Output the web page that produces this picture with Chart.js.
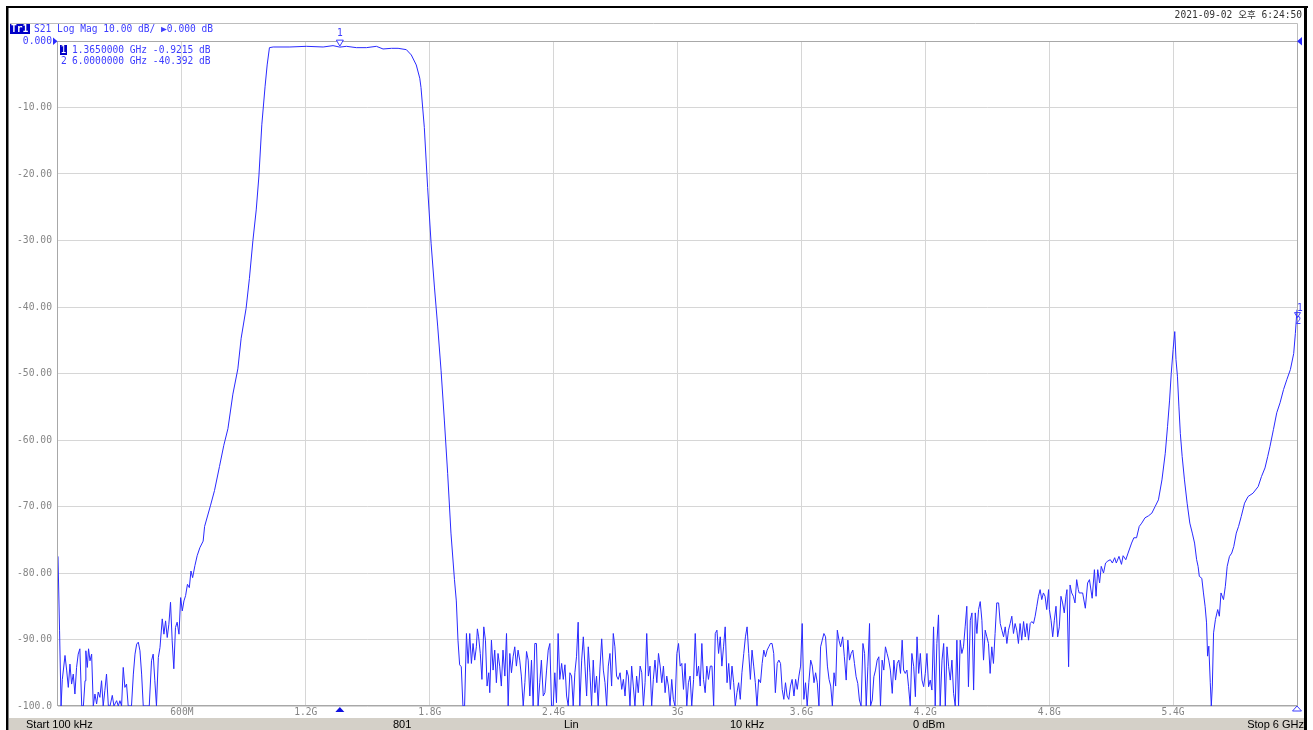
<!DOCTYPE html>
<html><head><meta charset="utf-8">
<script src="https://cdn.jsdelivr.net/npm/chart.js@4.4.1/dist/chart.umd.min.js"></script>
<style>html,body{margin:0;padding:0;background:#fff;overflow:hidden}canvas{display:block}</style>
</head><body>
<canvas id="c" width="1313" height="730"></canvas>
<script>
// ---- data (MHz, dB) ----
const lowFreqMHz = [0.1,7.6,15,21,34,42,50,58,66,74,82,90,98,
 106,115,123,131,135,142,148,155,163,171,
 179,187,195,203,211,219,227,235,244,252,
 263,271,284,292,300,308,316,324,332,340,
 356,365,373,381,389,397,405,413,429,442,
 453,461,469,477,486,494,505,513,521,529,
 537,545,553,561,569,577,586,594,602,610,
 618,627,636,644,652,663,674,687,703,710,
 739,758,782,803,823,847,871,887,911,927,
 944,960,973,987,1003,1013,1024];
const lowDb = [-77.5,-88.6,-100,-96,-92.4,-94.6,-97.2,-93.7,-96.7,-95.2,-98.2,-94.2,-92.2,
 -91.4,-100,-100,-96.2,-91.7,-94.2,-91.4,-93.2,-92.2,-100,
 -98.2,-99.7,-97.9,-98.7,-96.2,-100,-97.7,-95.2,-100,-100,
 -98.4,-100,-99.2,-100,-99.2,-100,-94.2,-97.2,-96.7,-100,
 -100,-95.2,-92.2,-90.7,-90.4,-91.7,-95.2,-100,-100,-100,
 -93.2,-92.2,-96.2,-100,-92.7,-91.2,-86.9,-89.2,-87.2,-89.7,
 -87.7,-84.4,-90.2,-94.4,-88.2,-87.4,-89.2,-83.7,-85.7,-84.2,
 -83.4,-81.7,-82.2,-79.7,-80.7,-78.9,-77.4,-76.2,-75.2,-73,
 -69.8,-67.6,-64,-60.8,-58.3,-53.1,-49.3,-44.7,-40.2,-35.7,
 -30,-25.4,-20.3,-12.6,-6.8,-3.6,-1.0];

const passFreqMHz = [1042,1123,1203,1284,1332,1365,1397,1445,1494,1542,
 1574,1615,1647,1687,1711,1735,1752,1758,1774,1790,
 1807,1823,1839,1855,1871,1887,1903,1920];
const passDb = [-0.9,-0.9,-0.8,-0.9,-0.7,-0.92,-0.8,-1.0,-1.0,-0.8,
 -1.2,-1.1,-1.1,-1.3,-2.1,-3.6,-5.6,-7,-13,-22,
 -30.5,-37,-43,-49.5,-57,-65,-74,-81];

const stopFreqMHz = [
 1929,1937,1945,1953,1961,1969,1978,1986,1994,2002,
 2010,2018,2026,2031,2037,2045,2053,2062,2070,2078,
 2086,2091,2099,2107,2115,2123,2131,2139,2147,2155,
 2164,2172,2180,2188,2196,2204,2212,2220,2228,2236,
 2244,2253,2261,2269,2277,2285,2293,2301,2309,2317,
 2325,2333,2341,2350,2358,2366,2374,2382,2390,2398,
 2406,2414,2422,2430,2439,2447,2455,2463,2471,2479,
 2487,2495,2503,2511,2519,2527,2536,2544,2552,2560,
 2568,2576,2584,2592,2600,2608,2616,2625,2633,2641,
 2649,2657,2665,2673,2681,2689,2697,2705,2713,2722,
 2730,2738,2746,2754,2762,2770,2778,2786,2794,2802,
 2810,2819,2827,2835,2843,2851,2859,2867,2875,2883,
 2891,2900,2908,2916,2924,2932,2940,2948,2956,2964,
 2972,2980,2988,2997,3005,3013,3021,3029,3037,3045,
 3053,3061,3069,3078,3086,3094,3102,3110,3118,3126,
 3134,3142,3150,3159,3167,3175,3183,3191,3199,3207,
 3215,3223,3231,3240,3248,3256,3264,3272,3280,3288,
 3296,3304,3312,3321,3329,3337,3345,3353,3361,3369,
 3377,3385,3393,3402,3410,3418,3426,3434,3442,3450,
 3458,3466,3474,3483,3491,3499,3507,3515,3523,3531,
 3539,3547,3555,3564,3572,3580,3588,3596,3604,3612,
 3620,3628,3636,3645,3653,3661,3669,3677,3685,3693,
 3701,3709,3717,3726,3734,3742,3750,3758,3766,3774,
 3782,3790];
const stopDb = [
 -84.2,-90.1,-93.8,-94.1,-100,-100,-89.1,-93.6,-89.1,-93.6,
 -90.6,-93.1,-91.1,-88.4,-89.6,-92.1,-96,-88.1,-90.1,-97,
 -95,-98,-90.1,-94.6,-91.6,-96.5,-92.1,-94,-97,-91.6,
 -95.5,-89.1,-100,-92.1,-95,-92.6,-91.1,-94,-91.6,-93.1,
 -95.5,-100,-96.5,-91.8,-93.1,-98.5,-93.1,-100,-90.6,-90.6,
 -100,-96.5,-93.1,-98.5,-98,-94.6,-91.6,-90.6,-100,-100,
 -95,-99.5,-89.1,-96,-93.6,-96,-93.8,-98.5,-100,-95,
 -95.5,-100,-95,-92.6,-87.4,-100,-93.1,-89.6,-94,-98.5,
 -91.1,-95,-100,-93.1,-98,-95.5,-100,-94,-89.9,-94.6,
 -96.5,-100,-94,-92.1,-97,-89.1,-91.1,-95.5,-96,-95,
 -97.5,-96,-98.5,-94.6,-95.5,-100,-94,-97,-100,-95.5,
 -98,-94,-95,-100,-96.5,-89.1,-95.5,-94,-100,-96,
 -93.1,-96.5,-92.1,-94,-96.5,-94,-98,-95.5,-97,-100,
 -96,-99,-100,-92.1,-90.6,-94,-93.6,-97.5,-93.6,-100,
 -96.5,-95.5,-100,-96,-89.1,-95.5,-94,-97,-90.6,-96,
 -98,-94,-96,-94,-94,-100,-89.1,-88.6,-92.1,-89.6,
 -94,-91.1,-88.1,-96.5,-93.6,-97.5,-94,-96.5,-100,-98,
 -96.5,-99,-95,-92.1,-89.6,-88.1,-92.1,-96,-91.6,-94,
 -96.5,-100,-96,-96.5,-93.6,-91.6,-92.6,-91.6,-91.1,-90.6,
 -90.6,-92.1,-98,-93.6,-93.1,-93.6,-97.5,-99,-96.5,-98.5,
 -99,-97,-96,-98.5,-96,-97.5,-95.5,-94,-87.6,-99,
 -96.5,-100,-96.5,-93.1,-94,-96.5,-95,-96.5,-100,-91.1,
 -90.1,-89.1,-89.6,-94,-96,-97,-100,-95,-97,-88.6,
 -90.1,-91.1];

const upperFreqMHz = [
 3800,3808,3817,3825,3833,3841,3849,3857,3865,3873,
 3881,3889,3898,3906,3914,3922,3930,3935,3943,3951,
 3959,3967,3975,3983,3991,3999,4007,4015,4023,4031,
 4040,4048,4056,4064,4072,4080,4088,4095,4103,4111,
 4119,4127,4135,4144,4152,4160,4168,4176,4184,4192,
 4200,4208,4216,4224,4232,4240,4248,4256,4264,4272,
 4281,4289,4297,4305,4313,4321,4329,4337,4345,4353,
 4361,4369,4377,4385,4393,4401,4409,4418,4426,4434,
 4442,4450,4458,4466,4474,4482,4490,4498,4506,4514,
 4522,4530,4538,4546,4555,4563,4571,4579,4587,4595,
 4603,4611,4619,4627,4635,4643,4651,4659,4667,4676,
 4684,4692,4700,4708,4716,4724,4732,4740,4748,4756,
 4764,4772,4780,4788,4797,4801,4809,4817,4825,4833,
 4841,4849,4857,4865,4873,4881,4886,4894,4901,4909,
 4917,4925,4933,4941];
const upperDb = [
 -89.6,-92.6,-96.1,-90.1,-93.1,-92.1,-91.6,-93.6,-95.6,-96.6,
 -99.1,-100,-90.6,-92.1,-100,-94.1,-87.6,-100,-99.1,-95.6,
 -94.6,-93.1,-92.6,-100,-93.1,-94.6,-91.1,-92.1,-93.1,-94.6,
 -98.1,-93.1,-96.1,-93.6,-93.1,-95.1,-90.1,-94.6,-95.1,-94.6,
 -97.1,-100,-92.1,-94.1,-98.6,-89.6,-95.1,-92.1,-96.1,-97.1,
 -95.1,-92.1,-97.1,-96.1,-97.6,-88.1,-100,-90.6,-86.3,-100,
 -93.1,-90.6,-100,-91.1,-94.1,-96.1,-93.1,-98.1,-100,-90.1,
 -100,-90.1,-92.1,-91.1,-88.1,-85,-97.1,-87.1,-86,-97.6,
 -86,-89.1,-85.5,-84.3,-87.1,-93.1,-88.6,-89.6,-90.6,-95.1,
 -91.1,-93.6,-89.1,-84.5,-84.5,-87.6,-88.6,-89.6,-88.1,-90.6,
 -88.6,-87.6,-86.5,-89.1,-87.6,-88.6,-90.6,-87.6,-90.1,-87.3,
 -89.6,-87.6,-90.1,-87.6,-87.3,-87.6,-86.5,-85,-83.5,-82.5,
 -84,-83,-83.5,-85.5,-82.5,-85.5,-87.1,-89.6,-87.1,-85,
 -89.6,-88.1,-83.5,-84.5,-86,-83.5,-82.5,-94.1,-81.8,-83,
 -83.5,-84.5,-81,-82.5];

const spurFreqMHz = [
 4945,4962,4975,4986,4995,5008,5019,5027,5035,5044,
 5052,5063,5073,5084,5096,5106,5117,5125,5138,5150,
 5158,5171,5182,5199,5210,5223,5236,5248,5264,5281,
 5297,5313,5329,5346,5362,5373,5383,5391,5400,5408,
 5414,5421,5428,5435,5444,5455,5468,5481,5493,5504,
 5514,5521,5527,5539,5547,5555,5562,5567,5573,5580,
 5585,5590,5596,5605,5616,5624,5632,5644,5653,5662,
 5673,5684,5694,5706,5717,5730,5746,5763,5787,5812,
 5828,5845,5858,5869,5886,5902,5918,5935,5951,5968,
 5984,5992,6000];
const spurDb = [
 -83,-83,-85.3,-81.5,-81,-83.8,-79.5,-83.5,-79.5,-81.5,
 -79,-80,-78.5,-78.2,-78,-78.5,-77.7,-78.5,-77.5,-78.7,
 -77.4,-78,-77,-75.5,-74.7,-74.7,-73,-72.5,-71.7,-71.4,
 -71,-70,-69,-66,-62,-58,-54,-50,-46.4,-43.7,
 -47.9,-50.4,-54.9,-59,-62.5,-66,-69.5,-72.5,-74,-75.5,
 -78,-79,-80.5,-80.8,-83,-85,-87.5,-92.5,-91,-96.5,
 -100,-97,-89,-87,-85.5,-86.5,-83,-84,-82,-79,
 -77.5,-77,-76,-74,-73,-71.5,-69.5,-68.5,-68,-67,
 -65.5,-64.2,-62.5,-61,-58.4,-55.9,-54.4,-52.4,-50.9,-49.4,
 -47,-44,-40.392];

const markerFreqMHz = [1365, 6000];
const markerDb = [-0.9215, -40.392];
const markerReadout = ['1.3650000 GHz -0.9215 dB', '6.0000000 GHz -40.392 dB'];

const xTickValues = [600,1200,1800,2400,3000,3600,4200,4800,5400];
const xTickLabels = ['600M','1.2G','1.8G','2.4G','3G','3.6G','4.2G','4.8G','5.4G'];
const yTickValues = [0,-10,-20,-30,-40,-50,-60,-70,-80,-90,-100];
const yTickLabels = ['0.000','-10.00','-20.00','-30.00','-40.00','-50.00','-60.00','-70.00','-80.00','-90.00','-100.0'];

const statusItems = ['Start 100 kHz','801','Lin','10 kHz','0 dBm','Stop 6 GHz'];

// ---- build ----
const allFreq = [].concat(lowFreqMHz, passFreqMHz, stopFreqMHz, upperFreqMHz, spurFreqMHz);
const allDb = [].concat(lowDb, passDb, stopDb, upperDb, spurDb);
const points = allFreq.map((f, i) => ({x: f, y: allDb[i]}));

const MONO = '"DejaVu Sans Mono", "Noto Sans CJK KR", monospace';
const BLUE_TXT = '#3c3cff';

function tri(ctx, pts, fill, stroke) {
  ctx.beginPath();
  ctx.moveTo(pts[0][0], pts[0][1]);
  ctx.lineTo(pts[1][0], pts[1][1]);
  ctx.lineTo(pts[2][0], pts[2][1]);
  ctx.closePath();
  if (fill) { ctx.fillStyle = fill; ctx.fill(); }
  if (stroke) { ctx.strokeStyle = stroke; ctx.lineWidth = 1; ctx.stroke(); }
}

const chrome = {
  id: 'chrome',
  beforeDraw(chart) {
    const c = chart.ctx;
    c.save();
    c.fillStyle = '#fff';
    c.fillRect(0, 0, chart.width, chart.height);
    c.restore();
  },
  beforeDatasetsDraw(chart) {
    const c = chart.ctx, a = chart.chartArea;
    c.save();
    c.strokeStyle = '#a8a8a8';
    c.lineWidth = 1;
    c.strokeRect(Math.round(a.left) - 0.5, Math.round(a.top) + 0.5, Math.round(a.right - a.left) + 1, Math.round(a.bottom - a.top) - 1);
    // panel header frame
    c.strokeStyle = '#bdbdbd';
    c.beginPath();
    c.moveTo(10, 23.5); c.lineTo(a.right + 0.5, 23.5);
    c.moveTo(a.right + 0.5, 23.5); c.lineTo(a.right + 0.5, a.top);
    c.stroke();
    c.restore();
  },
  afterDraw(chart) {
    const c = chart.ctx, a = chart.chartArea;
    const xs = chart.scales.x, ys = chart.scales.y;
    c.save();
    // outer black frame
    c.fillStyle = '#000';
    c.fillRect(6, 6, 1302, 2);
    c.fillRect(6, 6, 2.5, 724);
    c.fillRect(1304, 6, 3, 724);
    // date
    c.font = '9.6px ' + MONO;
    c.textBaseline = 'middle';
    c.textAlign = 'right';
    c.fillStyle = '#333';
    c.fillText('2021-09-02 오후 6:24:50', 1302, 15);
    // trace title
    c.textAlign = 'left';
    c.fillStyle = '#0000c8';
    c.fillRect(10, 24, 20, 10);
    c.fillStyle = '#fff';
    c.font = 'bold 9.6px ' + MONO;
    c.fillText('Tr1', 11, 29.5);
    c.font = '9.6px ' + MONO;
    c.fillStyle = BLUE_TXT;
    c.fillText('S21 Log Mag 10.00 dB/ \u25B60.000 dB', 34, 29.5);
    // marker readout
    c.fillStyle = '#0000c8';
    c.fillRect(60, 45, 7, 10);
    c.fillStyle = '#fff';
    c.fillText('1', 60.5, 50.5);
    c.fillStyle = BLUE_TXT;
    c.fillText(markerReadout[0], 72, 50.5);
    c.fillText('2', 61, 61);
    c.fillText(markerReadout[1], 72, 61);
    // reference arrows
    tri(c, [[53, 37.5], [53, 45], [57.5, 41.3]], '#2a2aff');
    tri(c, [[1302, 37], [1302, 45.5], [1297, 41.3]], '#2a2aff');
    // marker 1 on trace
    const m1x = xs.getPixelForValue(markerFreqMHz[0]);
    const m1y = ys.getPixelForValue(markerDb[0]);
    tri(c, [[m1x - 3.5, m1y - 7], [m1x + 3.5, m1y - 7], [m1x, m1y - 1]], '#fff', '#3c3cff');
    c.textAlign = 'center';
    c.fillStyle = BLUE_TXT;
    c.fillText('1', m1x, m1y - 14);
    // marker 2 at stop
    const m2x = xs.getPixelForValue(markerFreqMHz[1]);
    const m2y = ys.getPixelForValue(markerDb[1]);
    c.fillText('1', m2x + 3, m2y - 1.5);
    tri(c, [[m2x - 2.5, m2y + 3], [m2x + 3.5, m2y + 3], [m2x + 0.5, m2y + 8]], null, '#3c3cff');
    c.fillText('2', m2x + 1.5, m2y + 12);
    // stimulus markers under the axis
    tri(c, [[m1x - 4.5, a.bottom + 6], [m1x + 4.5, a.bottom + 6], [m1x, a.bottom + 1]], '#1010e0');
    tri(c, [[m2x - 4.5, a.bottom + 5], [m2x + 4.5, a.bottom + 5], [m2x, a.bottom]], '#fff', '#3c3cff');
    // status bar
    c.fillStyle = '#d4d0c8';
    c.fillRect(9, 718, 1295, 12);
    c.fillStyle = '#000';
    c.font = '11px "Liberation Sans", Arial, sans-serif';
    c.textAlign = 'left';
    c.textBaseline = 'middle';
    const sx = [26, 393, 564, 730, 913];
    for (let i = 0; i < 5; i++) c.fillText(statusItems[i], sx[i], 724.5);
    c.textAlign = 'right';
    c.fillText(statusItems[5], 1304, 724.5);
    c.restore();
  }
};

new Chart(document.getElementById('c').getContext('2d'), {
  type: 'line',
  data: { datasets: [{ data: points, borderColor: '#2a2aff', borderWidth: 1, pointRadius: 0, tension: 0, fill: false }] },
  options: {
    responsive: false, animation: false, devicePixelRatio: 1,
    layout: { padding: { left: 0, top: 41, right: 16, bottom: 0 } },
    plugins: { legend: { display: false }, tooltip: { enabled: false } },
    scales: {
      x: {
        type: 'linear', min: 0.1, max: 6000,
        afterBuildTicks: s => { s.ticks = xTickValues.map(v => ({ value: v })); },
        afterFit: s => { s.height = 24; },
        grid: { color: '#d6d6d6', drawTicks: false },
        border: { display: false },
        ticks: { autoSkip: false, maxRotation: 0, padding: 1, color: '#858585',
          font: { family: MONO, size: 9.6 },
          callback: (v, i) => xTickLabels[i] }
      },
      y: {
        type: 'linear', min: -100, max: 0,
        afterBuildTicks: s => { s.ticks = yTickValues.map(v => ({ value: v })); },
        afterFit: s => { s.width = 58; },
        grid: { color: '#d6d6d6', drawTicks: false },
        border: { display: false },
        ticks: { padding: 6, color: ctx => (ctx.tick && ctx.tick.value === 0 ? BLUE_TXT : '#858585'),
          font: { family: MONO, size: 9.7 },
          callback: (v, i) => yTickLabels[i] }
      }
    }
  },
  plugins: [chrome]
});
</script>
</body></html>
